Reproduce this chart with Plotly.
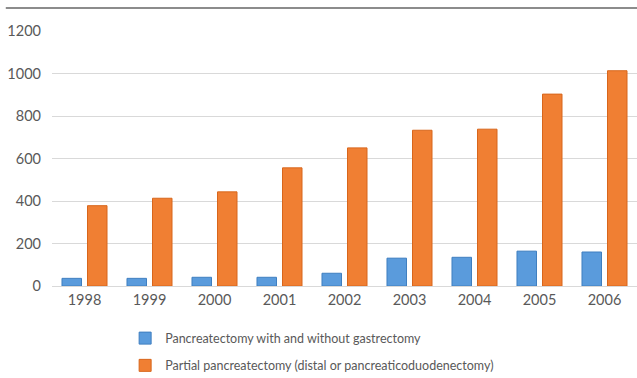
import plotly.graph_objects as go

years = ["1998", "1999", "2000", "2001", "2002", "2003", "2004", "2005", "2006"]
total_pancreatectomy = [36, 36, 41, 41, 60, 131, 135, 164, 160]
partial_pancreatectomy = [378, 413, 443, 556, 650, 733, 738, 903, 1013]

series_names = [
    "Pancreatectomy with and without gastrectomy",
    "Partial pancreatectomy (distal or pancreaticoduodenectomy)",
]

fig = go.Figure()
fig.add_trace(go.Bar(
    x=years, y=total_pancreatectomy, name=series_names[0],
    legendgroup="a",
    marker=dict(color="#5a9bdc", line=dict(color="#3f7fc0", width=1)),
))
fig.add_trace(go.Bar(
    x=years, y=partial_pancreatectomy, name=series_names[1],
    legendgroup="b",
    marker=dict(color="#f07f33", line=dict(color="#d8661c", width=1)),
))

font_family = "Lato, 'Open Sans', sans-serif"

fig.update_layout(
    width=637, height=378,
    margin=dict(l=52, r=0, t=31, b=92, autoexpand=False),
    paper_bgcolor="white", plot_bgcolor="white",
    barmode="group", bargap=0.215, bargroupgap=0.235,
    font=dict(family=font_family, color="#595959", size=14),
    showlegend=True,
    legend=dict(
        orientation="v", x=0.125, y=-0.147, xanchor="left", yanchor="top",
        font=dict(size=12.5, color="#595959"),
        traceorder="grouped", tracegroupgap=8,
        bgcolor="rgba(0,0,0,0)",
    ),
    xaxis=dict(
        showgrid=False, showline=False, ticks="", ticklabelstandoff=3,
        automargin=False,
        tickfont=dict(size=14.5, color="#595959"),
    ),
    yaxis=dict(
        range=[0, 1200], dtick=200, showgrid=True, gridcolor="#d9d9d9",
        gridwidth=1, zeroline=True, zerolinecolor="#d9d9d9", zerolinewidth=1,
        showline=False, ticks="", ticklabelstandoff=10, automargin=False,
        tickfont=dict(size=14.5, color="#595959"),
    ),
    shapes=[dict(
        type="line", xref="paper", yref="paper",
        x0=-0.079, x1=1.0, y0=1.09, y1=1.09,
        line=dict(color="#8c8c8c", width=2),
    )],
)

fig.write_html("out.html")
